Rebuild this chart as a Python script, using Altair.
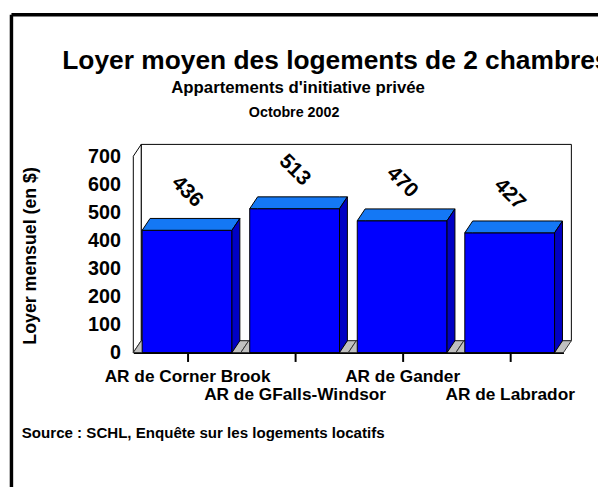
import altair as alt
import pandas as pd

# ---- data ----
categories = ["AR de Corner Brook", "AR de GFalls-Windsor", "AR de Gander", "AR de Labrador"]
rents = [436, 513, 470, 427]
y_ticks = [0, 100, 200, 300, 400, 500, 600, 700]
title_text = "Loyer moyen des logements de 2 chambres"
subtitle_1 = "Appartements d'initiative privée"
subtitle_2 = "Octobre 2002"
y_title = "Loyer mensuel (en $)"
source_text = "Source : SCHL, Enquête sur les logements locatifs"

# ---- geometry / style ----
W, H = 436, 199
YMAX = 700
N = len(categories)
PX_PER_X = W / N
DX = 8 / PX_PER_X            # 3D depth, horizontal
DY = 12 * YMAX / H           # 3D depth, vertical
GAP = 9 / PX_PER_X           # gap each side of a bar
FONT = "Liberation Sans, Arial, Helvetica, sans-serif"
OX, OY = 135, 155            # page position of plot origin

FRONT = "#0000FF"
TOP = "#1478F5"
SIDE = "#0000C4"
FLOOR = "#C0C0C0"

xs = alt.Scale(domain=[0, N], nice=False, zero=False)
ys = alt.Scale(domain=[0, YMAX], nice=False, zero=False)

items = []
for i, c in enumerate(categories):
    s = c.replace("'", "\\'")
    items.append(f"'{s}'" if i % 2 == 0 else f"['', '{s}']")
label_expr = "[" + ", ".join(items) + "][floor(datum.value)]"

x_axis = alt.Axis(
    values=[i + 0.5 for i in range(N)], title=None, labelExpr=label_expr,
    labelFont=FONT, labelFontSize=17.5, labelFontWeight="bold", labelColor="black",
    labelLineHeight=19, labelPadding=6, labelOverlap=False, labelBound=False,
    labelFlush=False, labelAngle=0, labelLimit=400,
    tickSize=9, tickWidth=2, tickColor="black",
    domainColor="black", domainWidth=2, grid=False,
)
y_axis = alt.Axis(
    values=y_ticks, format="d", title=y_title,
    labelFont=FONT, labelFontSize=20, labelFontWeight="bold", labelColor="black",
    labelPadding=13, ticks=False, domain=False, grid=False,
    titleFont=FONT, titleFontSize=18, titleFontWeight="bold", titleColor="black",
    titleX=31 - OX, titleY=H / 2 + 1, titleAngle=270, titleAlign="center",
    titleBaseline="middle",
)


def X(f):
    return alt.X(f, type="quantitative", scale=xs, axis=x_axis)


def Y(f):
    return alt.Y(f, type="quantitative", scale=ys, axis=y_axis)


# back wall
wall_df = pd.DataFrame({"x": [DX], "x2": [N + DX], "y": [DY], "y2": [YMAX + DY]})
back_wall = alt.Chart(wall_df).mark_rect(fill="white", stroke="black", strokeWidth=1).encode(
    x=X("x"), x2="x2", y=Y("y"), y2="y2")

# left wall
lw_df = pd.DataFrame({"x": [0, DX], "y": [0, DY], "y2": [YMAX, YMAX + DY]})
left_wall = alt.Chart(lw_df).mark_area(fill="white", stroke="black", strokeWidth=1).encode(
    x=X("x"), y=Y("y"), y2="y2")

# floor
rows = []
for i in range(N):
    rows += [
        {"id": i, "x": i, "y": 0, "y2": 0},
        {"id": i, "x": i + DX, "y": 0, "y2": DY},
        {"id": i, "x": i + 1, "y": 0, "y2": DY},
        {"id": i, "x": i + 1 + DX, "y": DY, "y2": DY},
    ]
floor = alt.Chart(pd.DataFrame(rows)).mark_area(fill=FLOOR, stroke="#333333", strokeWidth=1).encode(
    x=X("x"), y=Y("y"), y2="y2", detail="id:N")

# bars: front faces
front_df = pd.DataFrame({
    "cat": categories, "v": rents,
    "x": [i + GAP for i in range(N)], "x2": [i + 1 - GAP for i in range(N)],
    "c": [i + 0.5 for i in range(N)], "zero": [0] * N,
})
front = alt.Chart(front_df).mark_rect(fill=FRONT, stroke="black", strokeWidth=1).encode(
    x=X("x"), x2="x2", y=Y("zero"), y2="v")

# top and side faces
rows = []
for i, v in enumerate(rents):
    x0, x1 = i + GAP, i + 1 - GAP
    rows += [
        {"id": f"t{i}", "col": TOP, "x": x0, "y": v, "y2": v},
        {"id": f"t{i}", "col": TOP, "x": x0 + DX, "y": v, "y2": v + DY},
        {"id": f"t{i}", "col": TOP, "x": x1, "y": v, "y2": v + DY},
        {"id": f"t{i}", "col": TOP, "x": x1 + DX, "y": v + DY, "y2": v + DY},
        {"id": f"s{i}", "col": SIDE, "x": x1, "y": 0, "y2": v},
        {"id": f"s{i}", "col": SIDE, "x": x1 + DX, "y": DY, "y2": v + DY},
    ]
faces = alt.Chart(pd.DataFrame(rows)).mark_area(stroke="black", strokeWidth=1).encode(
    x=X("x"), y=Y("y"), y2="y2", detail="id:N", fill=alt.Fill("col:N", scale=None))

# value labels
values = alt.Chart(front_df).mark_text(
    angle=45, align="center", baseline="middle", yOffset=-39,
    font=FONT, fontSize=21, fontWeight="bold", color="black").encode(
    x=X("c"), y=Y("v"), text=alt.Text("v:Q", format="d"))

one = pd.DataFrame({"a": [0]})


def txt(s, x, y, size, align):
    return alt.Chart(pd.DataFrame({"t": [s]})).mark_text(
        align=align, baseline="alphabetic", font=FONT, fontSize=size,
        fontWeight="bold", color="black").encode(
        text="t:N", x=alt.value(x - OX), y=alt.value(y - OY))


title = txt(title_text, 63, 67, 26.7, "left")
sub1 = txt(subtitle_1, 302, 91, 17, "center")
sub2 = txt(subtitle_2, 298, 115, 14.5, "center")
source = txt(source_text, 22, 441, 15.3, "left")

border_h = alt.Chart(one).mark_rule(color="black", strokeWidth=3.5).encode(
    x=alt.value(11.5 - OX), x2=alt.value(700), y=alt.value(11.5 - OY))
border_v = alt.Chart(one).mark_rule(color="black", strokeWidth=3.5).encode(
    x=alt.value(11.5 - OX), y=alt.value(11.5 - OY), y2=alt.value(600))

chart = alt.layer(
    back_wall, left_wall, floor, front, faces, values,
    title, sub1, sub2, source, border_h, border_v,
).properties(
    width=W, height=H,
    autosize=alt.AutoSizeParams(type="none"),
    padding={"left": OX - 8, "top": OY - 8, "right": 598 - (OX - 8) - W, "bottom": 479 - (OY - 8) - H},
).configure_view(stroke="transparent")

chart.save("out.html", embed_options={"renderer": "svg", "actions": False})
